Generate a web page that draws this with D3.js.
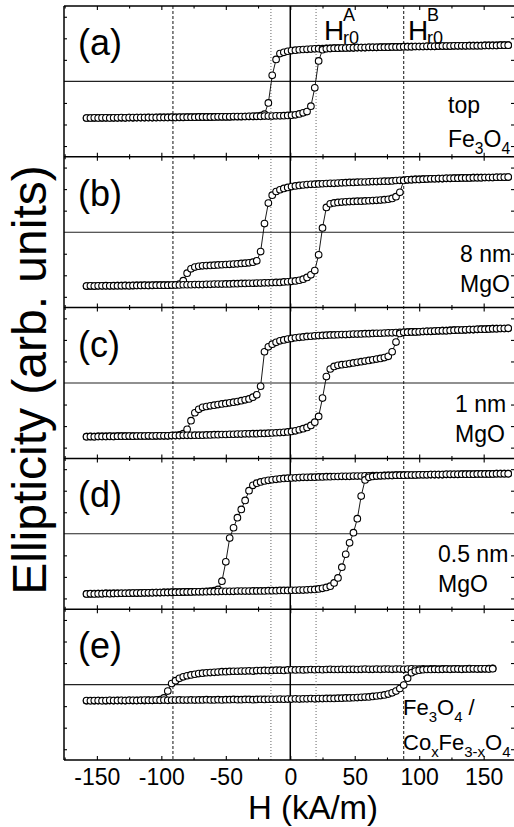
<!DOCTYPE html>
<html><head><meta charset="utf-8">
<script src="https://cdn.jsdelivr.net/npm/d3@7"></script>
<style>
body{margin:0;background:#fff}
svg{display:block}
text{font-family:"Liberation Sans",Arial,Helvetica,sans-serif;fill:#000}
</style>
</head><body>
<svg id="chart" width="514" height="827"></svg>
<script>
// ---------------- data ----------------
const fieldStart = -158;   // kA/m, first field of each sweep
const fieldStep = 3;       // kA/m between measured points
const xTicks = [-150, -100, -50, 0, 50, 100, 150];
const xMinorTicks = [-175, -125, -75, -25, 25, 75, 125, 175];
const yTicks = [-3, -2, -1, 1, 2, 3];
const panelLetters = ["(a)", "(b)", "(c)", "(d)", "(e)"];
const dashedFields = [-91, 88];
const dottedFields = [-15, 20];

// (a) top Fe3O4
const aDesc = [-1.70,-1.70,-1.70,-1.69,-1.70,-1.69,-1.69,-1.69,-1.69,-1.69,
 -1.69,-1.68,-1.69,-1.68,-1.68,-1.68,-1.68,-1.68,-1.68,-1.67,
 -1.67,-1.67,-1.67,-1.67,-1.67,-1.67,-1.66,-1.66,-1.66,-1.66,
 -1.66,-1.66,-1.66,-1.65,-1.65,-1.65,-1.65,-1.65,-1.64,-1.64,
 -1.64,-1.63,-1.63,-1.62,-1.61,-1.59,-1.52,-1.00,0.28,1.02,
 1.29,1.35,1.40,1.43,1.45,1.47,1.48,1.49,1.50,1.51,
 1.52,1.52,1.53,1.53,1.54,1.54,1.55,1.55,1.56,1.56,
 1.57,1.57,1.57,1.58,1.58,1.58,1.59,1.59,1.59,1.60,
 1.60,1.60,1.61,1.61,1.61,1.62,1.62,1.62,1.63,1.63,
 1.63,1.64,1.64,1.64,1.64,1.65,1.65,1.65,1.65,1.66,
 1.66,1.66,1.66,1.67,1.67,1.67,1.67,1.68,1.68,1.68];
const aAsc = [-1.70,-1.70,-1.69,-1.70,-1.69,-1.69,-1.70,-1.69,-1.69,-1.68,
 -1.69,-1.68,-1.68,-1.68,-1.68,-1.68,-1.67,-1.68,-1.67,-1.67,
 -1.67,-1.67,-1.66,-1.67,-1.66,-1.66,-1.66,-1.66,-1.66,-1.65,
 -1.65,-1.65,-1.65,-1.65,-1.64,-1.64,-1.64,-1.64,-1.63,-1.63,
 -1.63,-1.63,-1.62,-1.62,-1.62,-1.62,-1.61,-1.61,-1.61,-1.60,
 -1.60,-1.59,-1.58,-1.57,-1.55,-1.51,-1.46,-1.40,-1.15,-0.30,
 0.95,1.47,1.52,1.53,1.54,1.54,1.55,1.55,1.56,1.56,
 1.57,1.57,1.57,1.58,1.58,1.58,1.59,1.59,1.59,1.60,
 1.60,1.60,1.61,1.61,1.61,1.62,1.62,1.62,1.63,1.63,
 1.63,1.64,1.64,1.64,1.64,1.65,1.65,1.65,1.65,1.66,
 1.66,1.66,1.66,1.67,1.67,1.67,1.67,1.68,1.68,1.68];

// (b) 8 nm MgO
const bDesc = [-2.50,-2.50,-2.50,-2.49,-2.49,-2.49,-2.49,-2.49,-2.48,-2.48,
 -2.48,-2.48,-2.48,-2.47,-2.47,-2.47,-2.47,-2.47,-2.46,-2.46,
 -2.46,-2.46,-2.45,-2.44,-2.41,-2.25,-1.90,-1.70,-1.62,-1.58,
 -1.56,-1.55,-1.54,-1.53,-1.52,-1.51,-1.50,-1.49,-1.48,-1.47,
 -1.45,-1.44,-1.42,-1.39,-1.33,-0.90,0.40,1.35,1.72,1.89,
 1.97,2.03,2.08,2.12,2.15,2.17,2.19,2.21,2.22,2.23,
 2.24,2.25,2.26,2.27,2.27,2.28,2.29,2.30,2.31,2.31,
 2.32,2.33,2.33,2.34,2.35,2.35,2.36,2.37,2.37,2.38,
 2.40,2.41,2.42,2.43,2.44,2.45,2.45,2.46,2.47,2.48,
 2.48,2.49,2.49,2.50,2.50,2.51,2.51,2.52,2.52,2.52,
 2.53,2.53,2.53,2.54,2.54,2.54,2.55,2.55,2.55,2.56];
const bAsc = [-2.50,-2.49,-2.50,-2.49,-2.49,-2.48,-2.49,-2.48,-2.48,-2.48,
 -2.47,-2.48,-2.47,-2.47,-2.47,-2.46,-2.47,-2.46,-2.46,-2.46,
 -2.46,-2.46,-2.45,-2.45,-2.45,-2.44,-2.44,-2.44,-2.43,-2.43,
 -2.43,-2.42,-2.42,-2.41,-2.41,-2.41,-2.40,-2.40,-2.39,-2.39,
 -2.38,-2.38,-2.37,-2.37,-2.36,-2.36,-2.35,-2.35,-2.34,-2.33,
 -2.33,-2.31,-2.30,-2.28,-2.26,-2.23,-2.18,-2.10,-1.98,-1.78,
 -1.05,0.20,1.15,1.32,1.36,1.38,1.40,1.41,1.42,1.43,
 1.44,1.44,1.45,1.46,1.47,1.48,1.49,1.51,1.53,1.57,
 1.65,1.85,2.40,2.43,2.44,2.45,2.45,2.46,2.47,2.48,
 2.48,2.49,2.49,2.50,2.50,2.51,2.51,2.52,2.52,2.52,
 2.53,2.53,2.53,2.54,2.54,2.54,2.55,2.55,2.55,2.56];

// (c) 1 nm MgO
const cDesc = [-2.49,-2.49,-2.49,-2.48,-2.48,-2.48,-2.48,-2.48,-2.47,-2.47,
 -2.47,-2.47,-2.47,-2.46,-2.46,-2.46,-2.46,-2.46,-2.46,-2.45,
 -2.45,-2.45,-2.44,-2.43,-2.41,-2.35,-2.15,-1.75,-1.38,-1.22,
 -1.13,-1.09,-1.06,-1.03,-1.00,-0.97,-0.95,-0.92,-0.89,-0.86,
 -0.82,-0.78,-0.74,-0.66,-0.55,-0.15,1.45,1.68,1.80,1.89,
 1.96,2.00,2.04,2.07,2.10,2.12,2.14,2.16,2.17,2.19,
 2.20,2.21,2.22,2.23,2.23,2.24,2.25,2.25,2.26,2.27,
 2.27,2.28,2.29,2.29,2.30,2.31,2.31,2.32,2.33,2.33,
 2.34,2.35,2.35,2.36,2.37,2.37,2.38,2.39,2.40,2.40,
 2.41,2.42,2.43,2.43,2.44,2.45,2.46,2.46,2.47,2.48,
 2.48,2.49,2.50,2.50,2.51,2.52,2.52,2.53,2.53,2.54];
const cAsc = [-2.49,-2.48,-2.49,-2.48,-2.48,-2.48,-2.47,-2.48,-2.47,-2.47,
 -2.47,-2.46,-2.47,-2.46,-2.46,-2.46,-2.45,-2.46,-2.45,-2.45,
 -2.45,-2.45,-2.44,-2.44,-2.44,-2.43,-2.43,-2.43,-2.42,-2.42,
 -2.42,-2.41,-2.41,-2.40,-2.40,-2.39,-2.39,-2.38,-2.38,-2.37,
 -2.37,-2.36,-2.36,-2.35,-2.35,-2.34,-2.34,-2.33,-2.32,-2.31,
 -2.30,-2.29,-2.27,-2.25,-2.22,-2.17,-2.12,-2.06,-1.97,-1.82,
 -1.55,-0.70,0.30,0.65,0.77,0.82,0.85,0.87,0.90,0.93,
 0.96,0.99,1.02,1.05,1.08,1.11,1.14,1.18,1.24,1.45,
 1.90,2.30,2.35,2.36,2.37,2.37,2.38,2.39,2.40,2.40,
 2.41,2.42,2.43,2.43,2.44,2.45,2.46,2.46,2.47,2.48,
 2.48,2.49,2.50,2.50,2.51,2.52,2.52,2.53,2.53,2.54];

// (d) 0.5 nm MgO
const dDesc = [-2.79,-2.79,-2.78,-2.78,-2.78,-2.77,-2.77,-2.77,-2.76,-2.76,
 -2.76,-2.75,-2.75,-2.75,-2.74,-2.74,-2.74,-2.73,-2.73,-2.73,
 -2.72,-2.72,-2.72,-2.71,-2.71,-2.71,-2.70,-2.70,-2.69,-2.69,
 -2.68,-2.67,-2.66,-2.64,-2.58,-2.20,-1.30,-0.20,0.28,0.75,
 1.13,1.55,2.00,2.25,2.35,2.41,2.45,2.48,2.51,2.53,
 2.55,2.57,2.58,2.59,2.60,2.61,2.62,2.62,2.63,2.63,
 2.64,2.64,2.65,2.65,2.66,2.66,2.67,2.67,2.67,2.68,
 2.68,2.68,2.69,2.69,2.70,2.70,2.70,2.71,2.71,2.71,
 2.72,2.72,2.72,2.73,2.73,2.73,2.74,2.74,2.74,2.75,
 2.75,2.75,2.75,2.76,2.76,2.76,2.76,2.77,2.77,2.77,
 2.77,2.78,2.78,2.78,2.78,2.78,2.79,2.79,2.79,2.79];
const dAsc = [-2.79,-2.78,-2.79,-2.78,-2.78,-2.77,-2.78,-2.77,-2.77,-2.76,
 -2.76,-2.76,-2.75,-2.75,-2.75,-2.74,-2.74,-2.74,-2.73,-2.73,
 -2.72,-2.72,-2.71,-2.71,-2.71,-2.70,-2.70,-2.70,-2.69,-2.69,
 -2.69,-2.69,-2.68,-2.68,-2.68,-2.67,-2.67,-2.67,-2.67,-2.66,
 -2.66,-2.66,-2.66,-2.65,-2.65,-2.65,-2.65,-2.64,-2.64,-2.64,
 -2.63,-2.63,-2.63,-2.62,-2.62,-2.61,-2.61,-2.60,-2.59,-2.58,
 -2.56,-2.53,-2.49,-2.43,-2.28,-2.05,-1.55,-0.95,-0.42,0.05,
 0.70,1.75,2.50,2.62,2.66,2.68,2.69,2.70,2.71,2.71,
 2.72,2.72,2.72,2.73,2.73,2.73,2.74,2.74,2.74,2.75,
 2.75,2.75,2.75,2.76,2.76,2.76,2.76,2.77,2.77,2.77,
 2.77,2.78,2.78,2.78,2.78,2.78,2.79,2.79,2.79,2.79];

// (e) Fe3O4 / CoxFe3-xO4
const eDesc = [-0.75,-0.74,-0.75,-0.74,-0.74,-0.75,-0.74,-0.74,-0.73,-0.74,
 -0.74,-0.73,-0.74,-0.73,-0.73,-0.74,-0.72,-0.73,-0.72,-0.70,
 -0.62,-0.30,0.05,0.18,0.29,0.36,0.41,0.45,0.48,0.51,
 0.53,0.55,0.56,0.57,0.58,0.60,0.60,0.61,0.62,0.62,
 0.63,0.63,0.64,0.63,0.65,0.65,0.66,0.65,0.66,0.67,
 0.67,0.66,0.68,0.69,0.68,0.69,0.68,0.69,0.70,0.69,
 0.70,0.69,0.70,0.71,0.70,0.70,0.71,0.70,0.71,0.71,
 0.70,0.71,0.72,0.71,0.71,0.72,0.71,0.72,0.72,0.71,
 0.72,0.72,0.71,0.72,0.73,0.72,0.72,0.73,0.72,0.73,
 0.73,0.72,0.73,0.73,0.72,0.73,0.73,0.72,0.73,0.74,
 0.73,0.73,0.72,0.73,0.74,0.75];
const eAsc = [-0.74,-0.75,-0.74,-0.74,-0.75,-0.74,-0.73,-0.74,-0.74,-0.73,
 -0.74,-0.73,-0.73,-0.74,-0.73,-0.72,-0.73,-0.73,-0.72,-0.73,
 -0.72,-0.73,-0.72,-0.72,-0.71,-0.72,-0.72,-0.71,-0.72,-0.71,
 -0.71,-0.70,-0.71,-0.71,-0.70,-0.71,-0.70,-0.70,-0.69,-0.70,
 -0.70,-0.69,-0.69,-0.70,-0.69,-0.68,-0.69,-0.68,-0.68,-0.68,
 -0.67,-0.68,-0.67,-0.67,-0.66,-0.67,-0.66,-0.66,-0.65,-0.66,
 -0.65,-0.65,-0.64,-0.64,-0.64,-0.63,-0.63,-0.62,-0.62,-0.61,
 -0.60,-0.59,-0.58,-0.57,-0.55,-0.53,-0.51,-0.48,-0.44,-0.38,
 -0.30,-0.18,-0.02,0.30,0.55,0.63,0.67,0.69,0.70,0.70,
 0.71,0.70,0.71,0.72,0.71,0.72,0.72,0.71,0.72,0.72,
 0.73,0.72,0.73,0.73,0.72,0.74];

const sampleLines = [
  [[{t:"top"}], [{t:"Fe"},{t:"3",s:1},{t:"O"},{t:"4",s:1}]],
  [[{t:"8 nm"}], [{t:"MgO"}]],
  [[{t:"1 nm"}], [{t:"MgO"}]],
  [[{t:"0.5 nm"}], [{t:"MgO"}]],
  [[{t:"Fe"},{t:"3",s:1},{t:"O"},{t:"4",s:1},{t:" /"}],
   [{t:"Co"},{t:"x",s:1},{t:"Fe"},{t:"3-x",s:1},{t:"O"},{t:"4",s:1}]]
];
const panelsData = [[aDesc, aAsc], [bDesc, bAsc], [cDesc, cAsc], [dDesc, dAsc], [eDesc, eAsc]];

// ---------------- layout ----------------
const svg = d3.select("#chart");
const L = 64, R = 515, T = 6, B = 760;
const nP = panelsData.length;
const pH = (B - T) / nP;
const x = d3.scaleLinear().domain([-175.5, 174.3]).range([L, R]);
const yFor = i => d3.scaleLinear().domain([-3.5, 3.5]).range([T + (i + 1) * pH, T + i * pH]);

const labelPos = [
  {x: 448, y1: 113, y2: 147, fs: 23},
  {x: 460, y1: 262, y2: 292, fs: 23},
  {x: 455, y1: 412, y2: 442, fs: 23},
  {x: 438, y1: 562, y2: 592, fs: 23},
  {x: 403, y1: 715, y2: 750, fs: 22}
];

function richText(g, segs, px, py, size) {
  const t = g.append("text").attr("x", px).attr("y", py).attr("font-size", size);
  let shifted = false;
  segs.forEach(s => {
    const sp = t.append("tspan").text(s.t);
    if (s.s) { sp.attr("font-size", size * 0.68).attr("dy", shifted ? 0 : size * 0.3); shifted = true; }
    else { if (shifted) sp.attr("dy", -size * 0.3); shifted = false; }
  });
  return t;
}

// zero lines
panelsData.forEach((_, i) => {
  const y = yFor(i);
  svg.append("line").attr("x1", L).attr("x2", R).attr("y1", y(0)).attr("y2", y(0))
    .attr("stroke", "#222").attr("stroke-width", 1.1);
});

// reference verticals
dashedFields.forEach(f => svg.append("line").attr("x1", x(f)).attr("x2", x(f)).attr("y1", T).attr("y2", B)
  .attr("stroke", "#111").attr("stroke-width", 1).attr("stroke-dasharray", "3,2"));
dottedFields.forEach(f => svg.append("line").attr("x1", x(f)).attr("x2", x(f)).attr("y1", T).attr("y2", B)
  .attr("stroke", "#666").attr("stroke-width", 1).attr("stroke-dasharray", "1,2"));
svg.append("line").attr("x1", x(0)).attr("x2", x(0)).attr("y1", T).attr("y2", B)
  .attr("stroke", "#000").attr("stroke-width", 1.5);

// axes per panel
panelsData.forEach((_, i) => {
  const y = yFor(i);
  const top = T + i * pH, bot = T + (i + 1) * pH;
  const g = svg.append("g");
  const mk = (axis, tr) => {
    const a = g.append("g").attr("transform", tr).call(axis);
    a.select(".domain").remove();
    a.selectAll("line").attr("stroke", "#000").attr("stroke-width", 1.1);
  };
  mk(d3.axisBottom(x).tickValues(xTicks).tickSize(4).tickFormat(""), `translate(0,${top})`);
  mk(d3.axisBottom(x).tickValues(xMinorTicks).tickSize(2.5).tickFormat(""), `translate(0,${top})`);
  mk(d3.axisTop(x).tickValues(xTicks).tickSize(4).tickFormat(""), `translate(0,${bot})`);
  mk(d3.axisTop(x).tickValues(xMinorTicks).tickSize(2.5).tickFormat(""), `translate(0,${bot})`);
  mk(d3.axisRight(y).tickValues(yTicks).tickSize(3).tickFormat(""), `translate(${L},0)`);
  mk(d3.axisLeft(y).tickValues(yTicks).tickSize(3).tickFormat(""), `translate(${R - 1},0)`);
  g.append("line").attr("x1", L).attr("x2", R).attr("y1", top).attr("y2", top).attr("stroke", "#000").attr("stroke-width", 1.5);
});
svg.append("line").attr("x1", L).attr("x2", R).attr("y1", B).attr("y2", B).attr("stroke", "#000").attr("stroke-width", 1.5);
svg.append("line").attr("x1", L).attr("x2", L).attr("y1", T).attr("y2", B).attr("stroke", "#000").attr("stroke-width", 1.5);

// data
panelsData.forEach((branches, i) => {
  const y = yFor(i);
  const g = svg.append("g");
  branches.forEach(vals => {
    const pts = vals.map((v, k) => [fieldStart + k * fieldStep, v]);
    g.append("path").datum(pts)
      .attr("d", d3.line().x(d => x(d[0])).y(d => y(d[1])))
      .attr("fill", "none").attr("stroke", "#000").attr("stroke-width", 0.9);
  });
  branches.forEach(vals => {
    const pts = vals.map((v, k) => [fieldStart + k * fieldStep, v]);
    g.selectAll(null).data(pts).enter().append("circle")
      .attr("cx", d => x(d[0])).attr("cy", d => y(d[1])).attr("r", 3.3)
      .attr("fill", "#fff").attr("stroke", "#000").attr("stroke-width", 1.1);
  });
});

// panel letters and sample labels
panelsData.forEach((_, i) => {
  const top = T + i * pH;
  svg.append("text").attr("x", 78).attr("y", top + 49).attr("font-size", 36).text(panelLetters[i]);
  const lp = labelPos[i];
  richText(svg, sampleLines[i][0], lp.x, lp.y1, lp.fs);
  richText(svg, sampleLines[i][1], lp.x, lp.y2, lp.fs);
});

// H_r0 labels
function hr0(px, sup) {
  svg.append("text").attr("x", px).attr("y", 40).attr("font-size", 28).text("H");
  svg.append("text").attr("x", px + 19).attr("y", 44).attr("font-size", 18).text("r0");
  svg.append("text").attr("x", px + 19).attr("y", 21).attr("font-size", 18).text(sup);
}
hr0(324, "A");
hr0(408, "B");

// bottom tick labels
const xa = svg.append("g").attr("transform", `translate(0,${B})`)
  .call(d3.axisBottom(x).tickValues(xTicks).tickSize(0).tickPadding(9).tickFormat(d => String(d)));
xa.select(".domain").remove();
xa.selectAll("text").attr("font-size", 23).attr("font-family", '"Liberation Sans",Arial,sans-serif').attr("fill", "#000");

// axis titles
svg.append("text").attr("x", 313).attr("y", 819).attr("text-anchor", "middle").attr("font-size", 33).text("H (kA/m)");
svg.append("text").attr("transform", "translate(46,380) rotate(-90)").attr("text-anchor", "middle")
  .attr("font-size", 48).text("Ellipticity (arb. units)");
</script>
</body></html>
